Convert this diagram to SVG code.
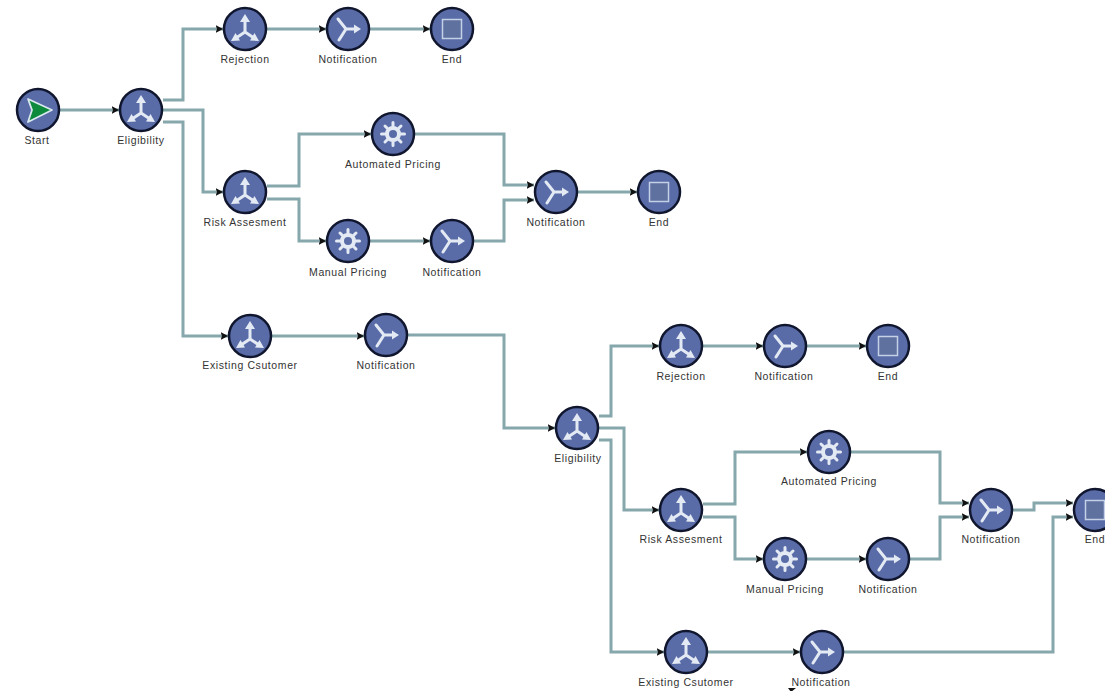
<svg xmlns="http://www.w3.org/2000/svg" width="1105" height="691" viewBox="0 0 1105 691">
<style>
.c{fill:none;stroke:#86a8ad;stroke-width:3;marker-end:url(#ah)}
.n{fill:#5a6ca8;stroke:#10162e;stroke-width:2.5}
.g{fill:none;stroke:#e4eaf4;stroke-width:3;stroke-linecap:round;stroke-linejoin:round}
.w{fill:#e4eaf4;stroke:none}
text{font-family:"Liberation Sans",Arial,sans-serif;font-size:10.5px;fill:#333;text-anchor:middle;letter-spacing:.6px}
</style>
<defs>
<marker id="ah" markerUnits="userSpaceOnUse" markerWidth="8" markerHeight="9" refX="7.5" refY="4.5" orient="auto"><path d="M0 .5L7.500 4.500L0 8.500L1.500 4.500Z" fill="#111"/></marker>
<g id="split"><circle class="n" r="21"/><path class="g" d="M0 3V-9M0 3L-9 9M0 3L9 9"/><path class="w" d="M0 -15L5 -7H-5ZM-14 12L-5 11.500L-9.500 4ZM14 12L5 11.500L9.500 4Z"/></g>
<g id="merge"><circle class="n" r="21"/><path class="g" d="M-10 -10L-2 0L-9 11M-2 0H6"/><path class="w" d="M13 0L6 -4.500V4.500Z"/></g>
<g id="gear"><circle class="n" r="21"/><circle r="6" fill="none" stroke="#e4eaf4" stroke-width="4"/><path class="g" stroke-linecap="butt" d="M0 -11.500V-7M0 7V11.500M-11.500 0H-7M7 0H11.500M-8 -8L-5 -5M5 5L8 8M-8 8L-5 5M5 -5L8 -8"/></g>
<g id="end"><circle class="n" r="21"/><rect x="-9.500" y="-9.500" width="19" height="19" fill="#5f719f" stroke="#c3d0e6" stroke-width="1.500"/></g>
</defs>
<rect width="1105" height="691" fill="#fff"/>
<g id="connectors">
<path class="c" d="M60 110H119"/>
<path class="c" d="M163 100H183V29H223"/>
<path class="c" d="M163 110H203V192H223"/>
<path class="c" d="M163 122H183V336H228"/>
<path class="c" d="M267 29H326"/>
<path class="c" d="M370 29H430"/>
<path class="c" d="M267 186H299V134H371"/>
<path class="c" d="M267 199H299V241H326"/>
<path class="c" d="M415 134H504V185H534"/>
<path class="c" d="M370 241H430"/>
<path class="c" d="M474 241H504V200H534"/>
<path class="c" d="M578 192H637"/>
<path class="c" d="M272 336H364"/>
<path class="c" d="M408 335H504V428H555"/>
<path class="c" d="M599 416H611V346H659"/>
<path class="c" d="M599 428H624V510H659"/>
<path class="c" d="M599 440H611V652H664"/>
<path class="c" d="M703 346H763"/>
<path class="c" d="M807 346H866"/>
<path class="c" d="M703 504H735V452H807"/>
<path class="c" d="M703 517H735V559H763"/>
<path class="c" d="M851 452H940V503H969"/>
<path class="c" d="M807 559H866"/>
<path class="c" d="M910 559H940V517H969"/>
<path class="c" d="M1013 510H1034V503H1073"/>
<path class="c" d="M708 652H800"/>
<path class="c" d="M844 652H1053V517H1073"/>
</g>
<g id="start"><circle class="n" cx="38" cy="110" r="21"/><path d="M28 99L52 110L28 122L32 110Z" fill="#0e8a3c" stroke="#d8e8ee" stroke-width="1.800" stroke-linejoin="round"/><text x="37" y="144">Start</text></g>
<g id="eligibility1"><use href="#split" x="141" y="110"/><text x="141" y="144">Eligibility</text></g>
<g id="rejection1"><use href="#split" x="245" y="29"/><text x="245" y="63">Rejection</text></g>
<g id="notification1"><use href="#merge" x="348" y="29"/><text x="348" y="63">Notification</text></g>
<g id="end1"><use href="#end" x="452" y="29"/><text x="452" y="63">End</text></g>
<g id="risk1"><use href="#split" x="245" y="192"/><text x="245" y="226">Risk Assesment</text></g>
<g id="automated1"><use href="#gear" x="393" y="134"/><text x="393" y="168">Automated Pricing</text></g>
<g id="manual1"><use href="#gear" x="348" y="241"/><text x="348" y="276">Manual Pricing</text></g>
<g id="notification2"><use href="#merge" x="452" y="241"/><text x="452" y="276">Notification</text></g>
<g id="notification3"><use href="#merge" x="556" y="192"/><text x="556" y="226">Notification</text></g>
<g id="end2"><use href="#end" x="659" y="192"/><text x="659" y="226">End</text></g>
<g id="existing1"><use href="#split" x="250" y="336"/><text x="250" y="369">Existing Csutomer</text></g>
<g id="notification4"><use href="#merge" x="386" y="335"/><text x="386" y="369">Notification</text></g>
<g id="eligibility2"><use href="#split" x="577" y="428"/><text x="578" y="462">Eligibility</text></g>
<g id="rejection2"><use href="#split" x="681" y="346"/><text x="681" y="380">Rejection</text></g>
<g id="notification5"><use href="#merge" x="785" y="346"/><text x="784" y="380">Notification</text></g>
<g id="end3"><use href="#end" x="888" y="346"/><text x="888" y="380">End</text></g>
<g id="automated2"><use href="#gear" x="829" y="452"/><text x="829" y="485">Automated Pricing</text></g>
<g id="risk2"><use href="#split" x="681" y="510"/><text x="681" y="543">Risk Assesment</text></g>
<g id="manual2"><use href="#gear" x="785" y="559"/><text x="785" y="593">Manual Pricing</text></g>
<g id="notification6"><use href="#merge" x="888" y="559"/><text x="888" y="593">Notification</text></g>
<g id="notification7"><use href="#merge" x="991" y="510"/><text x="991" y="543">Notification</text></g>
<g id="end4"><use href="#end" x="1095" y="510"/><text x="1095" y="543">End</text></g>
<g id="existing2"><use href="#split" x="686" y="652"/><text x="686" y="686">Existing Csutomer</text></g>
<g id="notification8"><use href="#merge" x="822" y="652"/><text x="821" y="686">Notification</text></g>
<path d="M788 688H796L791 692Z" fill="#111"/>
</svg>
